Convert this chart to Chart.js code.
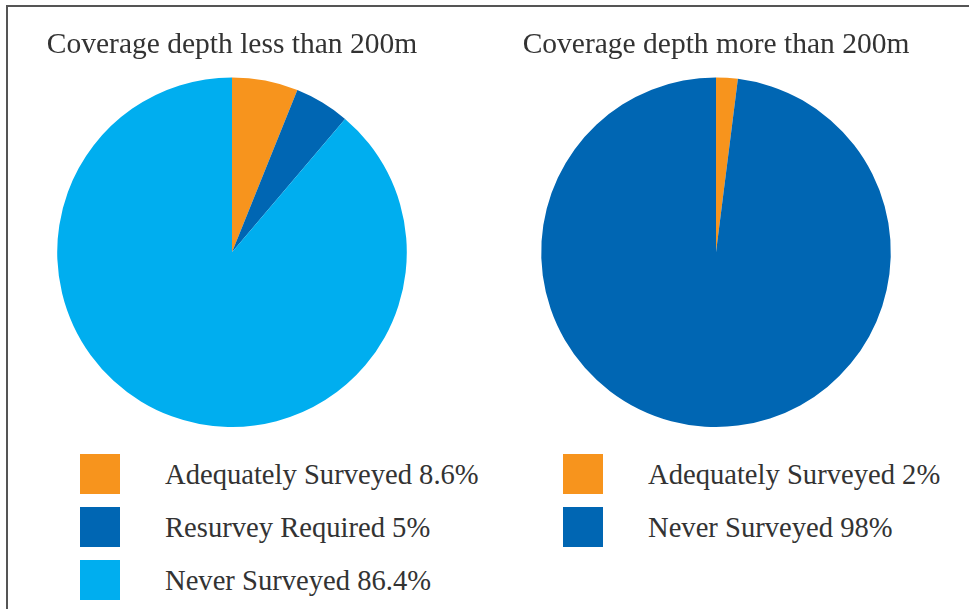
<!DOCTYPE html>
<html lang="en">
<head>
<meta charset="UTF-8">
<title>Coverage depth</title>
<script src="https://cdn.jsdelivr.net/npm/chart.js"></script>
<style>
  html, body { margin: 0; padding: 0; background: #fff; }
  body { width: 969px; height: 609px; position: relative; overflow: hidden; font-family: "Liberation Serif", serif; color: #333; }
  .frame { position: absolute; left: 6px; top: 5px; width: 1000px; height: 700px; border: 2px solid #555; box-sizing: border-box; }
  .chart { position: absolute; top: 0; width: 464px; height: 440px; }
  .legend { position: absolute; top: 454px; }
  .legend .item { position: relative; height: 40px; margin-bottom: 13px; }
  .legend .box { position: absolute; left: 0; top: 0; width: 40px; height: 40px; }
  .legend .txt { position: absolute; left: 85px; top: 1px; line-height: 40px; font-size: 28.6px; white-space: nowrap; }
</style>
</head>
<body>
<div class="frame"></div>
<div class="chart" style="left:0"><canvas id="shallowChart"></canvas></div>
<div class="chart" style="left:484px"><canvas id="deepChart"></canvas></div>
<div class="legend" id="shallowLegend" style="left:80px"></div>
<div class="legend" id="deepLegend" style="left:563px"></div>

<script>
    // colours
    const orange = '#F7941D';
    const darkBlue = '#0066B3';
    const lightBlue = '#00AEEF';

    // depth < 200m (slice sizes, legend text as printed)
    const shallowTitle = 'Coverage depth less than 200m';
    const shallowLabels = ['Adequately Surveyed 8.6%', 'Resurvey Required 5%', 'Never Surveyed 86.4%'];
    const shallowValues = [6.1, 5.1, 88.8];
    const shallowColors = [orange, darkBlue, lightBlue];

    // depth > 200m
    const deepTitle = 'Coverage depth more than 200m';
    const deepLabels = ['Adequately Surveyed 2%', 'Never Surveyed 98%'];
    const deepValues = [2, 98];
    const deepColors = [orange, darkBlue];

    function createPie(canvasId, title, labels, values, colors) {
        const ctx = document.getElementById(canvasId).getContext('2d');
        return new Chart(ctx, {
            type: 'pie',
            data: {
                labels: labels,
                datasets: [{
                    data: values,
                    backgroundColor: colors,
                    borderWidth: 0
                }]
            },
            options: {
                responsive: true,
                maintainAspectRatio: false,
                animation: false,
                layout: { padding: { left: 0, right: 0, top: 0, bottom: 13 } },
                plugins: {
                    legend: { display: false },
                    tooltip: { enabled: false },
                    title: {
                        display: true,
                        text: title,
                        color: '#333',
                        font: { family: 'Liberation Serif', size: 29.5, weight: 'normal', lineHeight: 1.2 },
                        padding: { top: 28, bottom: 14 }
                    }
                }
            }
        });
    }

    function buildLegend(id, labels, colors) {
        const el = document.getElementById(id);
        labels.forEach((label, i) => {
            const item = document.createElement('div');
            item.className = 'item';
            const box = document.createElement('div');
            box.className = 'box';
            box.style.background = colors[i];
            const txt = document.createElement('div');
            txt.className = 'txt';
            txt.textContent = label;
            item.appendChild(box);
            item.appendChild(txt);
            el.appendChild(item);
        });
    }

    createPie('shallowChart', shallowTitle, shallowLabels, shallowValues, shallowColors);
    createPie('deepChart', deepTitle, deepLabels, deepValues, deepColors);
    buildLegend('shallowLegend', shallowLabels, shallowColors);
    buildLegend('deepLegend', deepLabels, deepColors);
</script>
</body>
</html>
